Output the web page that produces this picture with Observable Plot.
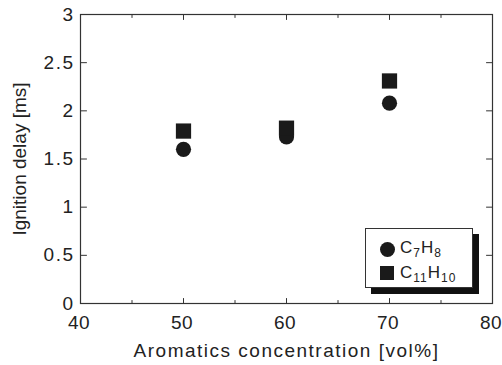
<!DOCTYPE html>
<html>
<head>
<meta charset="utf-8">
<script src="https://cdn.jsdelivr.net/npm/d3@7"></script>
<script src="https://cdn.jsdelivr.net/npm/@observablehq/plot@0.6"></script>
<style>
  html, body { margin: 0; padding: 0; background: #fff; }
  #wrap { position: relative; width: 502px; height: 365px; font-family: "Liberation Sans", Arial, sans-serif; color: #222; }
  #legend { position: absolute; left: 365px; top: 228px; width: 106px; height: 58px; background: #fff; border: 1px solid #333; box-shadow: 6px 6px 0 #111; }
  .item { position: absolute; left: 0; font-size: 17px; line-height: 17px; white-space: nowrap; letter-spacing: 1px; }
  .item sub { font-size: 12px; vertical-align: -4px; line-height: 0; }
  .sym { position: absolute; left: 14px; background: #1a1a1a; }
  g[aria-label="x-axis label"] text { letter-spacing: 1.5px; }
  g[aria-label="x-axis tick label"] text { letter-spacing: 0.5px; }
  g[aria-label="y-axis tick label"] text { letter-spacing: 1.5px; }
</style>
</head>
<body>
<div id="wrap"></div>
<script>
const concentration = [50, 60, 70];
const c7h8 = [1.60, 1.73, 2.08];
const c11h10 = [1.79, 1.82, 2.31];
const xTicks = [40, 50, 60, 70, 80];
const xMinor = [45, 55, 65, 75];
const yTicks = [0, 0.5, 1, 1.5, 2, 2.5, 3];
const seriesNames = ["C7H8", "C11H10"];

const rows = concentration.flatMap((c, i) => [
  {x: c, y: c7h8[i], s: seriesNames[0]},
  {x: c, y: c11h10[i], s: seriesNames[1]}
]);

const ink = "#333";
const tickShape = {draw(context, l) { context.moveTo(0, 0); context.lineTo(0, -l); }};
const inTick = (data, ch, frameAnchor, rotate, length) =>
  Plot.vector(data, {[ch]: d => d, frameAnchor, rotate, length, anchor: "start", shape: tickShape, stroke: ink, strokeWidth: 1});

const chart = Plot.plot({
  width: 502,
  height: 365,
  marginLeft: 80,
  marginRight: 10,
  marginTop: 14,
  marginBottom: 62,
  style: {fontFamily: "'Liberation Sans', Arial, sans-serif", fontSize: "19px", color: "#222", background: "#fff", overflow: "visible"},
  x: {domain: [40, 80]},
  y: {domain: [0, 3]},
  marks: [
    Plot.frame({stroke: ink, strokeWidth: 1.2}),
    // inward major/minor ticks on all four sides
    inTick(xTicks, "x", "bottom", 0, 5),
    inTick(xMinor, "x", "bottom", 0, 3),
    inTick(xTicks, "x", "top", 180, 5),
    inTick(xMinor, "x", "top", 180, 3),
    inTick(yTicks, "y", "left", 90, 6),
    inTick(yTicks, "y", "right", -90, 6),
    // labels
    Plot.axisX(xTicks, {anchor: "bottom", tickSize: 0, tickPadding: 12, fontSize: 19, fill: "#222", dx: -1.5,
      tickFormat: d => `${d}`,
      label: null}),
    Plot.axisX({anchor: "bottom", ticks: [], tickSize: 0,
      label: "Aromatics concentration [vol%]", labelAnchor: "center", labelArrow: "none", labelOffset: 53, fontSize: 19, fill: "#222"}),
    Plot.axisY(yTicks, {anchor: "left", tickSize: 0, tickPadding: 6, fontSize: 19, fill: "#222",
      tickFormat: d => `${d}`,
      label: "Ignition delay [ms]", labelAnchor: "center", labelArrow: "none", labelOffset: 68}),
    Plot.dot(rows.filter(d => d.s === seriesNames[0]), {x: "x", y: "y", r: 7.6, symbol: "circle", fill: "#1a1a1a"}),
    Plot.dot(rows.filter(d => d.s === seriesNames[1]), {x: "x", y: "y", r: 8.6, symbol: "square", fill: "#1a1a1a"})
  ]
});

const wrap = document.getElementById("wrap");
wrap.appendChild(chart);

const legend = document.createElement("div");
legend.id = "legend";
legend.innerHTML = `
  <div class="sym" style="top:13px;width:15px;height:15px;border-radius:50%;"></div>
  <div class="item" style="top:10px;left:34px;">C<sub>7</sub>H<sub>8</sub></div>
  <div class="sym" style="top:37px;width:14px;height:14px;"></div>
  <div class="item" style="top:35px;left:34px;">C<sub>11</sub>H<sub>10</sub></div>`;
wrap.appendChild(legend);
</script>
</body>
</html>
